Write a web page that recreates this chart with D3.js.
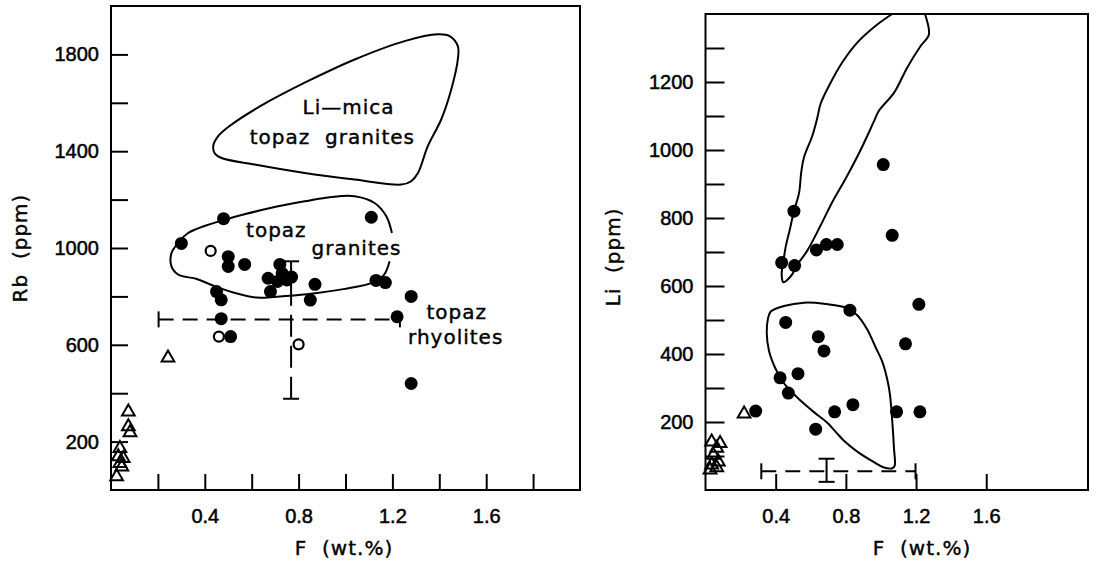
<!DOCTYPE html>
<html>
<head>
<meta charset="utf-8">
<script src="https://cdn.jsdelivr.net/npm/d3@7"></script>
<style>
  html, body { margin: 0; padding: 0; background: #fff; }
  svg { display: block; }
  .axis .tick text { font-family: "Liberation Sans", Arial, sans-serif; font-size: 20px; fill: #000; stroke: #000; stroke-width: 0.5px; }
  .axis .tick line { stroke: #000; stroke-width: 2; }
  .note { font-family: "DejaVu Sans", sans-serif; font-size: 20px; letter-spacing: 1px; white-space: pre; fill: #000; stroke: #000; stroke-width: 0.4px; }
</style>
</head>
<body>
<svg id="chart" width="1098" height="562"></svg>
<script>
// ---- left panel: Rb (ppm) vs F (wt.%) ----
var rbFilled = [[0.48,1121],[1.11,1127],[0.30,1019],[0.50,964],[0.50,924],[0.57,932],[0.72,932],
    [0.67,875],[0.71,862],[0.75,868],[0.73,895],[0.68,820],[0.77,880],[0.87,850],[0.85,785],
    [1.13,866],[1.17,857],[0.45,820],[0.47,786],[0.47,708],[1.22,716],[1.28,800],[0.51,634],[1.28,440]];
var rbOpen = [[0.425,988],[0.46,634],[0.80,602]];
var rbTriangles = [[0.243,546],[0.074,323],[0.074,262],[0.081,237],[0.038,172],[0.031,138],
    [0.052,131],[0.038,110],[0.046,96],[0.024,55]];
var rbErrF = [0.203, 0.768, 1.232];
var rbErrRb = [377, 705, 945];

// Li-mica topaz granite field (closed)
var rbFieldLiMica = [[0.436,1421],[0.457,1462],[0.514,1510],[0.642,1589],[0.826,1683],[1.039,1779],
    [1.252,1855],[1.394,1883],[1.444,1876],[1.479,1834],[1.479,1779],[1.451,1655],[1.408,1531],
    [1.351,1421],[1.309,1310],[1.280,1276],[1.238,1262],[1.039,1283],[0.826,1310],[0.613,1345],
    [0.471,1372],[0.443,1390]];
// topaz granite field (open where the label sits)
var rbFieldTopaz = [[1.188,945],[1.165,890],[1.119,858],[0.991,830],[0.835,809],[0.707,799],
    [0.622,795],[0.522,816],[0.437,844],[0.366,872],[0.287,890],[0.258,924],[0.258,979],
    [0.287,1021],[0.329,1062],[0.500,1121],[0.684,1166],[0.826,1193],[0.940,1211],[1.039,1214],
    [1.124,1186],[1.174,1131],[1.198,1062]];

var rbNotes = [["Li\u2014mica",1.013,1583],["topaz  granites",0.944,1459],["topaz",0.705,1074],
    ["granites",1.047,1000],["topaz",1.474,735],["rhyolites",1.47,632]];

var fTicksLeft = [0.2,0.4,0.6,0.8,1.0,1.2,1.4,1.6,1.8];
var fLabels = [0.4,0.8,1.2,1.6];
var rbTicks = [200,400,600,800,1000,1200,1400,1600,1800];
var rbLabels = [200,600,1000,1400,1800];

// ---- right panel: Li (ppm) vs F (wt.%) ----
var liFilled = [[1.013,957],[0.504,820],[1.064,749],[0.434,669],[0.508,660],[0.632,706],[0.689,722],
    [0.751,722],[1.216,546],[0.823,529],[0.457,493],[0.643,451],[0.675,409],[1.140,430],[0.425,330],
    [0.527,342],[0.472,285],[0.286,232],[0.736,230],[0.840,251],[1.089,230],[1.222,230],[0.628,179]];
var liTriangles = [[0.220,224],[0.035,142],[0.083,137],[0.064,123],[0.045,103],[0.073,83],
    [0.035,74],[0.026,59],[0.064,66]];
var liErrF = [0.318, 0.690, 1.197];
var liErrLi = [24, 55, 92];

// upper field, runs out of the top of the frame
var liFieldUpper = [[1.064,1400],[0.979,1369],[0.865,1316],[0.780,1258],[0.704,1189],[0.656,1136],
    [0.637,1094],[0.609,1042],[0.561,978],[0.546,936],[0.533,873],[0.504,820],[0.481,767],
    [0.457,715],[0.444,672],[0.434,635],[0.444,611],[0.466,618],[0.495,635],[0.523,662],
    [0.580,704],[0.656,778],[0.723,847],[0.799,916],[0.884,1000],[0.960,1084],[0.989,1116],
    [1.074,1168],[1.150,1243],[1.226,1306],[1.273,1339],[1.254,1395],[1.250,1400]];
// lower field (closed)
var liFieldLower = [[0.372,525],[0.447,541],[0.561,551],[0.675,548],[0.808,535],[0.865,514],
    [0.922,472],[0.970,419],[1.008,377],[1.036,325],[1.051,282],[1.065,198],[1.074,124],
    [1.078,71],[1.065,64],[1.017,66],[0.960,82],[0.865,113],[0.789,145],[0.751,166],[0.694,198],
    [0.618,229],[0.523,272],[0.447,314],[0.400,356],[0.362,409],[0.349,462],[0.356,504]];

var fTicksRight = [0.4,0.8,1.2,1.6];
var liTicks = [100,200,300,400,500,600,700,800,900,1000,1100,1200,1300];
var liLabels = [200,400,600,800,1000,1200];

var svg = d3.select("#chart");

var xL = d3.scaleLinear().domain([0, 2]).range([111, 580]);
var yL = d3.scaleLinear().domain([0, 2000]).range([490, 6]);
var xR = d3.scaleLinear().domain([0, 2.18]).range([705.5, 1088]);
var yR = d3.scaleLinear().domain([0, 1400]).range([490, 14]);

function labelOnly(list, fmt) {
    var f = d3.format(fmt);
    return function(d) {
        return list.some(function(v){ return Math.abs(v - d) < 1e-6; }) ? f(d) : "";
    };
}

function drawPanel(x, y, o) {
    var g = svg.append("g");

    // frame
    g.append("rect")
        .attr("x", x.range()[0]).attr("y", y.range()[1])
        .attr("width", x.range()[1] - x.range()[0])
        .attr("height", y.range()[0] - y.range()[1])
        .attr("fill", "none").attr("stroke", "#000").attr("stroke-width", 2);

    // ticks point inwards
    g.append("g").attr("class", "axis")
        .attr("transform", "translate(0," + y.range()[0] + ")")
        .call(d3.axisBottom(x).tickValues(o.xTicks).tickSize(-16).tickPadding(19)
            .tickFormat(labelOnly(o.xLabels, ".1f")))
        .call(function(a){ a.select(".domain").remove(); });

    g.append("g").attr("class", "axis")
        .attr("transform", "translate(" + x.range()[0] + ",0)")
        .call(d3.axisLeft(y).tickValues(o.yTicks).tickSize(-o.ySize).tickPadding(12)
            .tickFormat(labelOnly(o.yLabels, "d")))
        .call(function(a){ a.select(".domain").remove(); });

    // fields
    var line = d3.line().x(function(d){ return x(d[0]); }).y(function(d){ return y(d[1]); });
    o.closed.forEach(function(f) {
        g.append("path").attr("d", line.curve(d3.curveCatmullRomClosed)(f))
            .attr("fill", "none").attr("stroke", "#000").attr("stroke-width", 2);
    });
    o.open.forEach(function(f) {
        g.append("path").attr("d", line.curve(d3.curveCatmullRom)(f))
            .attr("fill", "none").attr("stroke", "#000").attr("stroke-width", 2);
    });

    // error cross
    var ef = o.errF, ev = o.errV, cap = 8;
    var eg = g.append("g").attr("stroke", "#000").attr("stroke-width", 2);
    eg.append("line")
        .attr("x1", x(ef[0])).attr("x2", x(ef[2]))
        .attr("y1", y(ev[1])).attr("y2", y(ev[1]))
        .attr("stroke-dasharray", "15,9");
    eg.append("line")
        .attr("x1", x(ef[1])).attr("x2", x(ef[1]))
        .attr("y1", y(ev[0])).attr("y2", y(ev[2]))
        .attr("stroke-dasharray", o.vDash);
    [ef[0], ef[2]].forEach(function(v) {
        eg.append("line").attr("x1", x(v)).attr("x2", x(v))
            .attr("y1", y(ev[1]) - cap).attr("y2", y(ev[1]) + cap);
    });
    [ev[0], ev[2]].forEach(function(v) {
        eg.append("line").attr("x1", x(ef[1]) - cap).attr("x2", x(ef[1]) + cap)
            .attr("y1", y(v)).attr("y2", y(v));
    });

    // samples
    g.append("g").selectAll("path")
        .data(o.triangles).enter()
        .append("path")
        .attr("d", d3.symbol().type(d3.symbolTriangle).size(70))
        .attr("transform", function(d){ return "translate(" + x(d[0]) + "," + y(d[1]) + ")"; })
        .attr("fill", "none").attr("stroke", "#000").attr("stroke-width", 2);

    g.append("g").selectAll("circle")
        .data(o.open_pts).enter()
        .append("circle")
        .attr("cx", function(d){ return x(d[0]); })
        .attr("cy", function(d){ return y(d[1]); })
        .attr("r", 5)
        .attr("fill", "#fff").attr("stroke", "#000").attr("stroke-width", 2.2);

    g.append("g").selectAll("circle")
        .data(o.filled).enter()
        .append("circle")
        .attr("cx", function(d){ return x(d[0]); })
        .attr("cy", function(d){ return y(d[1]); })
        .attr("r", 6.5)
        .attr("fill", "#000");

    // notes inside the plot
    g.append("g").selectAll("text")
        .data(o.notes).enter()
        .append("text").attr("class", "note")
        .attr("x", function(d){ return x(d[1]); })
        .attr("y", function(d){ return y(d[2]); })
        .attr("text-anchor", "middle")
        .attr("dominant-baseline", "central")
        .text(function(d){ return d[0]; });

    // axis titles
    g.append("text").attr("class", "note")
        .attr("x", o.xTitleX).attr("y", 548)
        .attr("text-anchor", "middle").attr("dominant-baseline", "central")
        .text("F  (wt.%)");
    g.append("text").attr("class", "note")
        .attr("transform", "translate(" + o.yTitleX + "," + ((y.range()[0] + y.range()[1]) / 2 + o.yTitleShift) + ") rotate(-90)")
        .attr("text-anchor", "middle").attr("dominant-baseline", "central")
        .text(o.yTitle);
}

drawPanel(xL, yL, {
    xTicks: fTicksLeft, xLabels: fLabels, yTicks: rbTicks, yLabels: rbLabels, ySize: 17,
    closed: [rbFieldLiMica], open: [rbFieldTopaz],
    errF: rbErrF, errV: rbErrRb, vDash: "22,9",
    triangles: rbTriangles, open_pts: rbOpen, filled: rbFilled, notes: rbNotes,
    xTitleX: 344, yTitleX: 20, yTitleShift: 0, yTitle: "Rb  (ppm)"
});

drawPanel(xR, yR, {
    xTicks: fTicksRight, xLabels: fLabels, yTicks: liTicks, yLabels: liLabels, ySize: 19,
    closed: [liFieldLower], open: [liFieldUpper],
    errF: liErrF, errV: liErrLi, vDash: null,
    triangles: liTriangles, open_pts: [], filled: liFilled, notes: [],
    xTitleX: 922, yTitleX: 613, yTitleShift: 5, yTitle: "Li  (ppm)"
});
</script>
</body>
</html>
